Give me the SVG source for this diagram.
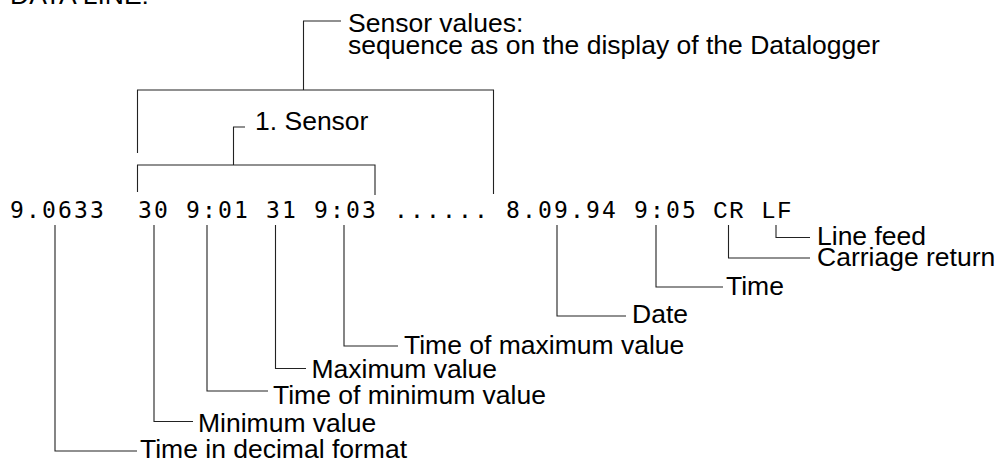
<svg xmlns="http://www.w3.org/2000/svg" width="1004" height="461" viewBox="0 0 1004 461">
<style>
.lbl{font-family:"Liberation Sans",Arial,sans-serif;font-size:26.5px;fill:#000}
.top{font-family:"Liberation Sans",Arial,sans-serif;font-size:26.5px;fill:#000}
.mono{font-family:"DejaVu Sans Mono",monospace;font-size:23px;letter-spacing:2.15px;fill:#000;white-space:pre}
.cour{font-family:"Liberation Mono","Courier New",monospace;font-size:24.5px;letter-spacing:1.3px;fill:#000}
.ln{fill:none;stroke:#222;stroke-width:1.1}
</style>
<rect width="1004" height="461" fill="#fff"/>
<text id="title" class="top" x="10" y="4" font-size="26">DATA LINE:</text>
<g id="dataline">
<text class="mono" x="10" y="218" xml:space="preserve">9.0633  30 9:01 31 9:03 ...... 8.09.94 9:05</text>
<text class="cour" x="713" y="218">CR LF</text>
</g>
<g id="connectors">
<path class="ln" d="M137.5,153 V90 H493.5 V194 M303.5,90 V21 H341"/>
<path class="ln" d="M137.5,192 V165 H375 V195 M233.5,165 V127 H245"/>
<path class="ln" d="M55,225 V451 H137"/>
<path class="ln" d="M154,225 V421.5 H193"/>
<path class="ln" d="M207,225 V391 H268"/>
<path class="ln" d="M275.5,225 V368.5 H306"/>
<path class="ln" d="M344,225 V346 H398"/>
<path class="ln" d="M557,225 V316 H626"/>
<path class="ln" d="M656,225 V287 H723"/>
<path class="ln" d="M728.5,225 V258 H810"/>
<path class="ln" d="M776,225 V237.5 H810"/>
</g>
<g id="n-sensorvalues"><text class="top" x="348" y="31.5">Sensor values:</text><text class="top" x="348" y="53.5">sequence as on the display of the Datalogger</text></g>
<g id="n-sensor1"><text class="top" x="255" y="130">1. Sensor</text></g>
<g id="n-timedec"><text class="lbl" x="140" y="458">Time in decimal format</text></g>
<g id="n-minval"><text class="lbl" x="198" y="431.5">Minimum value</text></g>
<g id="n-timemin"><text class="lbl" x="273" y="404">Time of minimum value</text></g>
<g id="n-maxval"><text class="lbl" x="311.5" y="377.5">Maximum value</text></g>
<g id="n-timemax"><text class="lbl" x="404" y="354">Time of maximum value</text></g>
<g id="n-date"><text class="lbl" x="632" y="323">Date</text></g>
<g id="n-time"><text class="lbl" x="726" y="295">Time</text></g>
<g id="n-cr"><text class="lbl" x="817" y="266">Carriage return</text></g>
<g id="n-lf"><text class="lbl" x="817" y="245">Line feed</text></g>
</svg>
